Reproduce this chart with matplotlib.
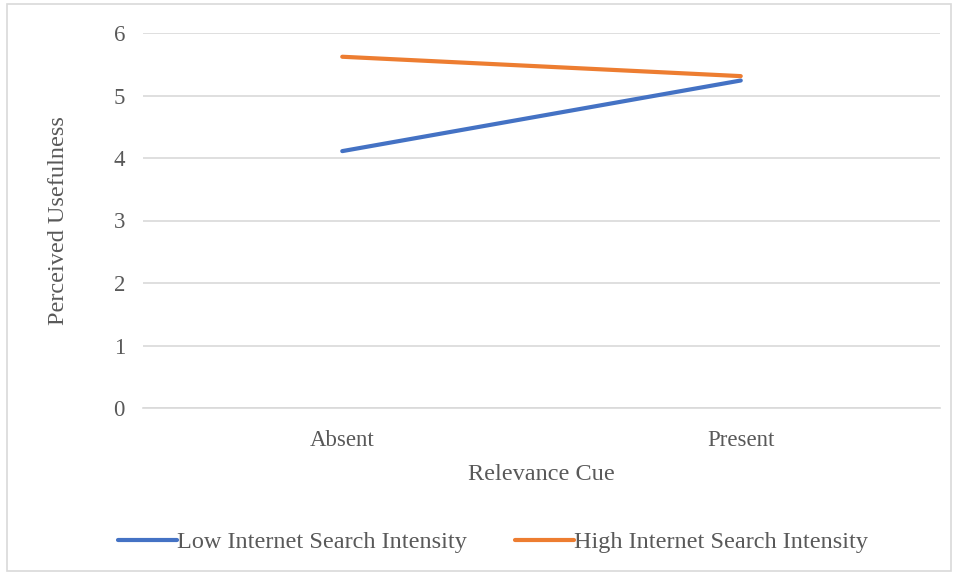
import numpy as np
import matplotlib
matplotlib.use('Agg')
import matplotlib.pyplot as plt
from matplotlib.patches import Rectangle

#%% Data
categories = ['Absent', 'Present']
low_isi    = [4.11, 5.24]
high_isi   = [5.62, 5.31]
yticks     = [0, 1, 2, 3, 4, 5, 6]

#%% Style
plt.rcParams['font.family'] = ['Liberation Serif', 'DejaVu Serif']
text_gray = '#595959'
grid_gray = '#d9d9d9'
c_blue    = '#4472c4'
c_orange  = '#ed7d31'

fig = plt.figure(figsize=(9.56, 5.75), dpi=100)
ax  = fig.add_axes([143/956, 1 - 408/575, (940 - 143)/956, (408 - 33)/575])

# chart border
fig.patches.append(Rectangle((7/956, 4/575), (951 - 7)/956, (571 - 4)/575,
                             transform=fig.transFigure, fill=False,
                             edgecolor='#d9d9d9', linewidth=1.2))

x = np.arange(len(categories))
ax.plot(x, low_isi,  color=c_blue,   linewidth=3.0, solid_capstyle='round',
        label='Low Internet Search Intensity', zorder=3)
ax.plot(x, high_isi, color=c_orange, linewidth=3.0, solid_capstyle='round',
        label='High Internet Search Intensity', zorder=3)

ax.set_xlim(-0.5, len(categories) - 0.5)
ax.set_ylim(0, 6)
ax.set_yticks(yticks)
ax.set_xticks(x)
ax.set_xticklabels(categories)
ax.yaxis.grid(True, color=grid_gray, linewidth=1.2)
ax.set_axisbelow(True)
for s in ['top', 'right', 'left']:
    ax.spines[s].set_visible(False)
ax.spines['bottom'].set_color(grid_gray)
ax.spines['bottom'].set_linewidth(1.2)
ax.tick_params(axis='both', length=0, labelsize=16.5, colors=text_gray)
ax.tick_params(axis='y', pad=13)
ax.tick_params(axis='x', pad=16)

ax.set_xlabel('Relevance Cue', fontsize=17.5, color=text_gray, labelpad=9)
ax.set_ylabel('Perceived Usefulness', fontsize=17.5, color=text_gray, labelpad=32)

ax.legend(loc='center', bbox_to_anchor=(493/956, 1 - 542/575), bbox_transform=fig.transFigure,
          ncol=2, frameon=False, fontsize=17.5, labelcolor=text_gray,
          handlelength=2.4, handletextpad=0.0, columnspacing=2.0)

fig.savefig('out.png', dpi=100)
